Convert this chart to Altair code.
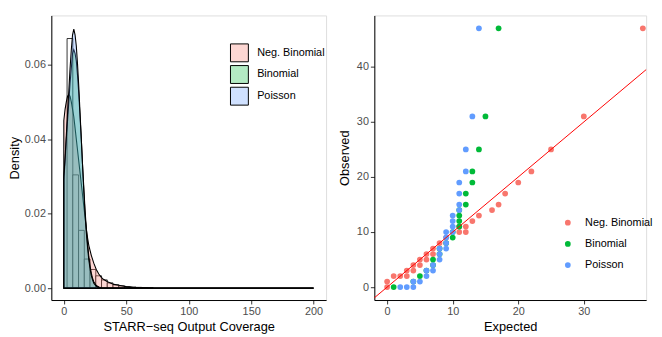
import altair as alt
import pandas as pd

FONT = "Liberation Sans"

# ---------------- Left panel data ----------------
# histogram of STARR-seq output coverage (density scale)
bin_width = 4.6
hist_start = [2.6, 7.2, 11.8, 16.4, 21.0, 25.6, 30.2, 34.8, 39.4, 44.0, 48.6, 53.2, 57.8, 62.4, 67.0]
hist_density = [0.0670, 0.0304, 0.0155, 0.0078, 0.0050, 0.0033, 0.0022, 0.0014, 0.0009,
                0.0006, 0.0004, 0.0003, 0.0002, 0.00015, 0.0001]

# fitted densities
nb_x = [0, 1, 2, 3, 4, 5, 6, 7, 8, 9, 10, 11, 12, 13, 14, 15, 16, 17, 18, 19, 20, 22, 24, 26, 28,
        30, 32, 35, 40, 45, 50, 55, 60, 70, 80, 90, 200]
nb_y = [0.045, 0.048, 0.050, 0.0515, 0.052, 0.0515, 0.050, 0.048, 0.046, 0.043, 0.040, 0.037, 0.034,
        0.031, 0.028, 0.025, 0.022, 0.019, 0.016, 0.0135, 0.0115, 0.0088, 0.0067, 0.0050, 0.0038,
        0.0029, 0.0023, 0.0017, 0.0010, 0.0007, 0.0004, 0.00025, 0.00015, 0.00005, 0.00002, 0.0, 0.0]

binom_x = [0, 1, 2, 3, 4, 5, 6, 7, 8, 9, 10, 11, 12, 13, 14, 15, 16, 17, 18, 19, 20, 21, 22, 23, 24,
           26, 28, 30, 32, 200]
binom_y = [0.029, 0.034, 0.040, 0.045, 0.050, 0.055, 0.059, 0.063, 0.064, 0.063, 0.061, 0.057, 0.052,
           0.046, 0.040, 0.033, 0.027, 0.021, 0.016, 0.012, 0.0085, 0.006, 0.004, 0.0027, 0.0017,
           0.0007, 0.0003, 0.0001, 0.0, 0.0]

pois_x = [0, 1, 2, 3, 4, 5, 6, 7, 8, 9, 10, 11, 12, 13, 14, 15, 16, 17, 18, 19, 20, 21, 22, 23, 24,
          26, 28, 30, 200]
pois_y = [0.030, 0.035, 0.041, 0.047, 0.053, 0.059, 0.064, 0.068, 0.0695, 0.068, 0.065, 0.060, 0.054,
          0.047, 0.040, 0.033, 0.026, 0.020, 0.015, 0.011, 0.0076, 0.0052, 0.0034, 0.0022, 0.0013,
          0.0005, 0.0002, 0.0, 0.0]

dist_names = ["Neg. Binomial", "Binomial", "Poisson"]
dist_colors = ["#F8766D", "#00BA38", "#619CFF"]
# the same colours seen through 30% fill opacity (legend keys of the left panel)
dist_colors_light = ["#FDD7D3", "#B3EAC3", "#D0E1FF"]

# ---------------- Right panel data (Q-Q) ----------------
nb_expected = [0, 0, 1, 2, 3, 3, 4, 4, 5, 5, 6, 6, 7, 7, 8, 9, 11, 11, 12, 12, 13, 14, 16, 17, 18,
               20, 22, 25, 30, 39]
nb_observed = [0, 1, 2, 2, 2, 3, 3, 4, 4, 5, 5, 6, 6, 7, 8, 9, 10, 11, 10, 11, 12, 13, 14, 15, 17,
               19, 21, 25, 31, 47]

binom_expected = [1, 4, 5, 6, 7, 7, 8, 8, 9, 10, 10, 11, 11, 11, 11, 12, 12, 13, 13, 14, 15, 17]
binom_observed = [0, 1, 2, 3, 4, 5, 6, 7, 8, 9, 10, 11, 12, 13, 14, 15, 17, 19, 21, 25, 31, 47]

pois_expected = [2, 3, 4, 4, 5, 6, 6, 7, 7, 8, 8, 8, 9, 9, 9, 9, 10, 10, 10, 10, 11, 11, 11, 11,
                 12, 12, 13, 14]
pois_observed = [0, 0, 0, 1, 1, 2, 3, 3, 4, 5, 6, 7, 7, 8, 9, 10, 10, 11, 12, 13, 14, 15, 17, 19,
                 21, 25, 31, 47]

ref_line = [-3, 45]

# ---------------- Tables ----------------
hist_df = pd.DataFrame({
    "lo": hist_start,
    "hi": [s + bin_width for s in hist_start],
    "base": [0.0] * len(hist_start),
    "density": hist_density,
})

dens_frames = [
    pd.DataFrame({"x": nb_x, "y": nb_y}),
    pd.DataFrame({"x": binom_x, "y": binom_y}),
    pd.DataFrame({"x": pois_x, "y": pois_y}),
]

legend_df = pd.DataFrame({"key": dist_names})

qq_df = pd.concat([
    pd.DataFrame({"expected": nb_expected, "observed": nb_observed, "dist": dist_names[0]}),
    pd.DataFrame({"expected": binom_expected, "observed": binom_observed, "dist": dist_names[1]}),
    pd.DataFrame({"expected": pois_expected, "observed": pois_observed, "dist": dist_names[2]}),
], ignore_index=True)

line_df = pd.DataFrame({"x": ref_line, "y": ref_line})

light_scale = alt.Scale(domain=dist_names, range=dist_colors_light)
color_scale = alt.Scale(domain=dist_names, range=dist_colors)

AX = dict(titleFontWeight="normal", titleFont=FONT, titleFontSize=13, titleColor="black",
          grid=False, domainColor="black", domainWidth=1, tickColor="#333333", tickSize=4,
          tickWidth=1, labelColor="#4D4D4D", labelFontSize=11, labelFont=FONT, labelPadding=2)

# ---------------- Left panel ----------------
xs_left = alt.Scale(domain=[-10, 210], nice=False, zero=False)
ys_left = alt.Scale(domain=[-0.0032, 0.0732], nice=False, zero=False)

x_axis_left = alt.Axis(title="STARR−seq Output Coverage", values=[0, 50, 100, 150, 200],
                       format="d", titlePadding=4, **AX)
y_axis_left = alt.Axis(title="Density", values=[0, 0.02, 0.04, 0.06], format=".2f",
                       titlePadding=3, minExtent=27, maxExtent=27, **AX)

left_legend = alt.Legend(title=None, orient="none", legendX=181, legendY=28, symbolType="square",
                         symbolSize=330, symbolStrokeWidth=1, symbolStrokeColor="black",
                         labelFontSize=11, labelFont=FONT, labelColor="black", rowPadding=-4.5,
                         labelOffset=8, padding=0)

hist = alt.Chart(hist_df).mark_rect(fill="white", stroke="black", strokeWidth=0.8).encode(
    x=alt.X("lo:Q", scale=xs_left, axis=x_axis_left),
    x2="hi:Q",
    y=alt.Y("base:Q", scale=ys_left, axis=y_axis_left),
    y2="density:Q",
)


def area_layer(frame, colour):
    return alt.Chart(frame).mark_area(
        fill=colour, stroke="black", strokeWidth=1.1, fillOpacity=0.3, clip=True
    ).encode(
        x=alt.X("x:Q", scale=xs_left, axis=x_axis_left),
        y=alt.Y("y:Q", scale=ys_left, stack=None, axis=y_axis_left),
    )


# legend keys only (zero-size marks; the legend shows the faded fill colours)
legend_keys = alt.Chart(legend_df).mark_square(size=0, opacity=1, filled=True).encode(
    color=alt.Color("key:N", scale=light_scale, legend=left_legend),
)

left = alt.layer(
    hist, *[area_layer(f, c) for f, c in zip(dens_frames, dist_colors)], legend_keys
).properties(width=279, height=289)

# ---------------- Right panel ----------------
xs_right = alt.Scale(domain=[-1.95, 39.5], nice=False, zero=False)
ys_right = alt.Scale(domain=[-2.35, 49.35], nice=False, zero=False)

x_axis_right = alt.Axis(title="Expected", values=[0, 10, 20, 30], format="d", titlePadding=4,
                        **AX)
y_axis_right = alt.Axis(title="Observed", values=[0, 10, 20, 30, 40], format="d",
                        titlePadding=5, minExtent=18, maxExtent=18, **AX)

right_legend = alt.Legend(title=None, orient="none", legendX=191, legendY=205, symbolType="circle",
                          symbolSize=34, labelFontSize=11, labelFont=FONT, labelColor="black",
                          rowPadding=9.5, labelOffset=12, padding=0)

pts = alt.Chart(qq_df).mark_circle(size=34, opacity=1).encode(
    x=alt.X("expected:Q", scale=xs_right, axis=x_axis_right),
    y=alt.Y("observed:Q", scale=ys_right, axis=y_axis_right),
    color=alt.Color("dist:N", scale=color_scale, legend=right_legend),
)

line = alt.Chart(line_df).mark_line(color="red", strokeWidth=1, clip=True).encode(
    x=alt.X("x:Q", scale=xs_right, axis=x_axis_right),
    y=alt.Y("y:Q", scale=ys_right, axis=y_axis_right),
)

right = alt.layer(pts, line).properties(width=276, height=289)

chart = alt.hconcat(left, right, spacing=11).resolve_scale(
    color="independent"
).resolve_legend(color="independent").properties(
    padding={"left": 0, "top": 4, "right": 0, "bottom": 0}
).configure_view(stroke=None).configure_axis(
    grid=False, domainColor="black", tickColor="#333333", labelColor="#4D4D4D",
    titleFontWeight="normal",
).configure(font=FONT)

chart.save("out.html", embed_options={"renderer": "svg", "actions": False})
